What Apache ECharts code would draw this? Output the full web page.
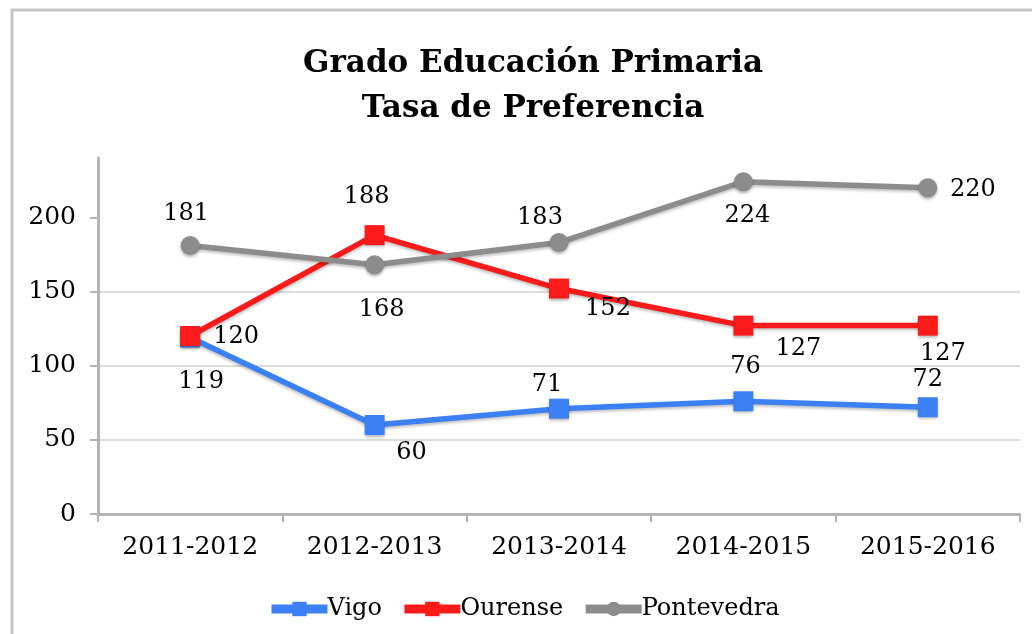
<!DOCTYPE html>
<html>
<head>
<meta charset="utf-8">
<script src="https://cdn.jsdelivr.net/npm/echarts@6/dist/echarts.min.js"></script>
<style>
  html, body { margin: 0; padding: 0; background: #fff; }
  #chart { width: 1032px; height: 634px; }
</style>
</head>
<body>
<div id="chart"></div>
<script>
// datos
const years = ["2011-2012", "2012-2013", "2013-2014", "2014-2015", "2015-2016"];
const vigo = [119, 60, 71, 76, 72];
const ourense = [120, 188, 152, 127, 127];
const pontevedra = [181, 168, 183, 224, 220];
const yTicks = [0, 50, 100, 150, 200];

// desplazamiento de las etiquetas respecto al punto (px)
const vigoLabelOffsets = [[11, 44], [37, 28], [-12, -24], [2, -35], [0, -27]];
const ourenseLabelOffsets = [[46, 1], [-8, -38], [49, 20], [55, 23], [15, 28]];
const pontevedraLabelOffsets = [[-4, -32], [7, 45], [-19, -25], [4, 34], [45, 2]];

const FONT = "DejaVu Serif";

function withLabels(values, offsets) {
  return values.map((v, i) => ({
    value: v,
    label: { offset: offsets[i] }
  }));
}

function makeSeries(name, values, offsets, color, symbol, size) {
  return {
    name: name,
    type: "line",
    data: withLabels(values, offsets),
    symbol: symbol,
    symbolSize: size,
    lineStyle: {
      color: color,
      width: 5.5,
      shadowColor: "rgba(0,0,0,0.25)",
      shadowBlur: 3,
      shadowOffsetY: 2
    },
    itemStyle: {
      color: color,
      shadowColor: "rgba(0,0,0,0.3)",
      shadowBlur: 3,
      shadowOffsetY: 2
    },
    label: {
      show: true,
      position: "inside",
      color: "#000",
      fontFamily: FONT,
      fontSize: 24
    },
    emphasis: { disabled: true }
  };
}

const chart = echarts.init(document.getElementById("chart"));

const option = {
  animation: false,
  backgroundColor: "#fff",
  graphic: [
    {
      type: "rect",
      shape: { x: 12, y: 10, width: 1040, height: 700 },
      style: { fill: "none", stroke: "#c6c6c6", lineWidth: 3 },
      silent: true
    }
  ],
  title: {
    text: "Grado Educación Primaria\nTasa de Preferencia",
    left: 528,
    top: 36,
    textAlign: "center",
    textStyle: {
      fontFamily: FONT,
      fontWeight: "bold",
      fontSize: 31,
      lineHeight: 45,
      color: "#000"
    }
  },
  legend: {
    bottom: 8,
    left: 262,
    itemWidth: 56,
    itemHeight: 18,
    itemGap: 18,
    lineStyle: { width: 9 },
    textStyle: { fontFamily: FONT, fontSize: 24, color: "#000", padding: [0, 0, 0, -5] },
    data: ["Vigo", "Ourense", "Pontevedra"]
  },
  grid: {
    left: 98,
    right: 12,
    top: 158,
    bottom: 120,
    containLabel: false
  },
  xAxis: {
    type: "category",
    data: years,
    boundaryGap: true,
    axisLine: { lineStyle: { color: "#b4b4b4", width: 3 } },
    axisTick: { show: true, length: 8, lineStyle: { color: "#b4b4b4", width: 2 } },
    axisLabel: {
      fontFamily: FONT,
      fontSize: 25,
      color: "#000",
      margin: 21
    }
  },
  yAxis: {
    type: "value",
    min: 0,
    max: 240,
    interval: 50,
    axisLine: { show: true, lineStyle: { color: "#b4b4b4", width: 3 } },
    axisTick: {
      show: true,
      length: 8,
      customValues: yTicks,
      lineStyle: { color: "#b4b4b4", width: 2 }
    },
    axisLabel: {
      fontFamily: FONT,
      fontSize: 25,
      color: "#000",
      margin: 22,
      customValues: yTicks
    },
    splitLine: {
      show: true,
      showMinLine: false,
      showMaxLine: false,
      lineStyle: { color: "#dcdcdc", width: 2 }
    }
  },
  series: [
    makeSeries("Vigo", vigo, vigoLabelOffsets, "#3b80f4", "rect", 20),
    makeSeries("Ourense", ourense, ourenseLabelOffsets, "#fb1b1b", "rect", 20),
    makeSeries("Pontevedra", pontevedra, pontevedraLabelOffsets, "#8c8c8c", "circle", 19)
  ]
};

chart.setOption(option);
</script>
</body>
</html>
